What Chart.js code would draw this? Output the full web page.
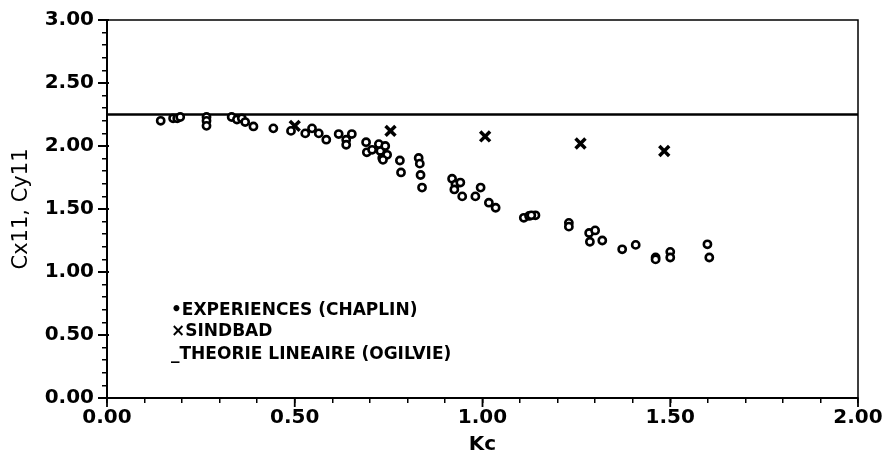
<!DOCTYPE html>
<html>
<head>
<meta charset="utf-8">
<script src="https://cdn.jsdelivr.net/npm/chart.js@4.4.1/dist/chart.umd.min.js"></script>
<style>
html,body{margin:0;padding:0;background:#fff;}
#wrap{width:891px;height:462px;}
</style>
</head>
<body>
<div id="wrap"><canvas id="c" width="891" height="462"></canvas></div>
<script>
// Experiences (Chaplin)
const expKc = [0.143,0.176,0.187,0.195,0.265,0.265,0.265,0.332,0.346,0.359,0.368,0.390,0.443,0.490,
  0.528,0.546,0.564,0.584,0.617,0.637,0.637,0.652,0.690,0.692,0.706,0.724,0.728,0.733,0.741,0.746,0.735,
  0.780,0.783,0.830,0.833,0.835,0.839,0.919,0.928,0.925,0.941,0.946,0.981,0.995,1.017,1.035,
  1.110,1.124,1.141,1.130,1.230,1.230,1.284,1.300,1.286,1.319,1.372,1.408,1.461,1.461,1.500,1.500,1.599,1.604];
const expC  = [2.20,2.22,2.22,2.23,2.23,2.20,2.16,2.23,2.21,2.22,2.19,2.155,2.14,2.12,
  2.10,2.14,2.10,2.05,2.095,2.05,2.01,2.095,2.03,1.95,1.97,2.015,1.96,1.905,2.00,1.93,1.89,
  1.885,1.79,1.905,1.86,1.77,1.67,1.74,1.695,1.655,1.71,1.60,1.60,1.67,1.55,1.51,
  1.43,1.445,1.45,1.45,1.39,1.36,1.31,1.33,1.24,1.25,1.18,1.215,1.115,1.10,1.16,1.115,1.22,1.115];
// SINDBAD
const sindKc = [0.50,0.755,1.007,1.261,1.484];
const sindC  = [2.16,2.12,2.076,2.02,1.96];
// Theorie lineaire (Ogilvie)
const theoryKc = [0,2];
const theoryC = [2.25,2.25];
const labels = ['EXPERIENCES (CHAPLIN)','SINDBAD','THEORIE LINEAIRE (OGILVIE)'];
const legendMarks = ['\u2022','\u00d7','_'];

const FONT = 'DejaVu Sans';
const toPts = (xs, ys) => xs.map((x,i)=>({x:x,y:ys[i]}));
const isMajor = v => Math.abs(v*2 - Math.round(v*2)) < 1e-6;

const framePlugin = {
  id:'frame',
  afterDraw(chart){
    const {ctx, chartArea:a} = chart;
    ctx.save();
    ctx.strokeStyle='#000'; ctx.lineWidth=1.5;
    ctx.beginPath();
    ctx.moveTo(a.left,a.top); ctx.lineTo(a.right,a.top); ctx.lineTo(a.right,a.bottom);
    ctx.stroke();
    // longer major ticks
    const xs = chart.scales.x, ys = chart.scales.y;
    ctx.lineWidth = 1.8;
    ctx.beginPath();
    xs.ticks.forEach(t=>{ if(isMajor(t.value)){ const p=xs.getPixelForValue(t.value); ctx.moveTo(p,a.bottom); ctx.lineTo(p,a.bottom+9);} });
    ys.ticks.forEach(t=>{ if(isMajor(t.value)){ const p=ys.getPixelForValue(t.value); ctx.moveTo(a.left+2,p); ctx.lineTo(a.left-9,p);} });
    ctx.stroke();
    // legend text
    ctx.fillStyle='#000';
    ctx.font = 'bold 17px "'+FONT+'"';
    ctx.textBaseline='middle';
    const x0 = a.left + 64;
    const ly = [311, 332, 355];
    labels.forEach((t,i)=>{
      ctx.fillText(legendMarks[i]+t, x0, ly[i]);
    });
    ctx.restore();
  }
};

const tickCb = v => isMajor(v) ? Number(v).toFixed(2) : '';

new Chart(document.getElementById('c'), {
  type:'scatter',
  data:{datasets:[
    {label:labels[0], data:toPts(expKc,expC), pointStyle:'circle', pointRadius:3.6,
     borderColor:'#000', backgroundColor:'#fff', borderWidth:2.6, showLine:false},
    {label:labels[1], data:toPts(sindKc,sindC), pointStyle:'crossRot', pointRadius:7,
     borderColor:'#000', borderWidth:3.5, showLine:false},
    {label:labels[2], type:'line', data:toPts(theoryKc,theoryC), borderColor:'#000',
     borderWidth:2.5, pointRadius:0, fill:false}
  ]},
  options:{
    responsive:false, animation:false,
    layout:{padding:{top:18,right:33,left:0,bottom:0}},
    plugins:{legend:{display:false}, tooltip:{enabled:false}},
    scales:{
      x:{type:'linear', min:0, max:2,
        afterFit(s){ s.height = 64; },
        ticks:{stepSize:0.1, autoSkip:false, maxRotation:0, callback:tickCb,
          color:'#000', font:{family:FONT,size:20,weight:'bold'}, padding:3},
        grid:{drawOnChartArea:false, drawTicks:true, tickLength:5, color:'#000', lineWidth:1.5},
        border:{color:'#000', width:2},
        title:{display:true, text:'Kc', color:'#000', font:{family:FONT,size:20,weight:'bold'}, padding:{top:0,bottom:5}}
      },
      y:{type:'linear', min:0, max:3,
        afterFit(s){ s.width = 107; },
        ticks:{stepSize:0.1, autoSkip:false, callback:tickCb,
          color:'#000', font:{family:FONT,size:20,weight:'bold'}, padding:8},
        grid:{drawOnChartArea:false, drawTicks:true, tickLength:5, color:'#000', lineWidth:1.5},
        border:{color:'#000', width:2},
        title:{display:true, text:'Cx11, Cy11', color:'#000', font:{family:FONT,size:21}, padding:{top:9,bottom:0}}
      }
    }
  },
  plugins:[framePlugin]
});
</script>
</body>
</html>
